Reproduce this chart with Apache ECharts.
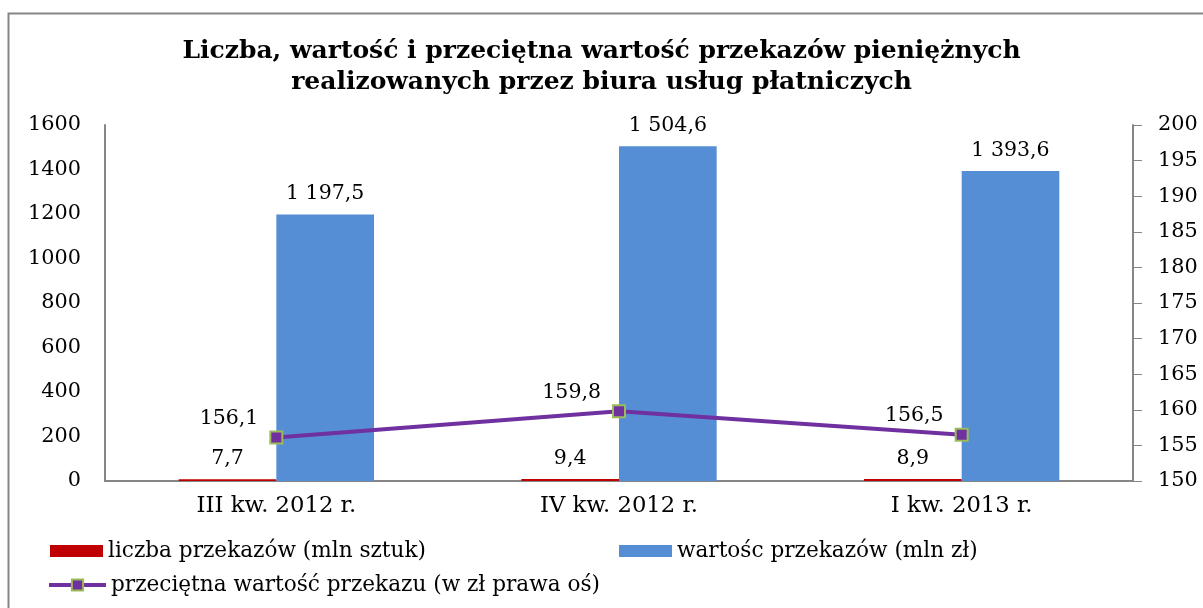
<!DOCTYPE html>
<html><head><meta charset="utf-8">
<script src="https://cdn.jsdelivr.net/npm/echarts@6/dist/echarts.min.js"></script>
<style>html,body{margin:0;padding:0;background:#fff}#c{width:1203px;height:608px}</style>
</head><body><div id="c"></div>
<script>
const categories = ['III kw. 2012 r.', 'IV kw. 2012 r.', 'I kw. 2013 r.'];
const liczba = [7.7, 9.4, 8.9];
const wartosc = [1197.5, 1504.6, 1393.6];
const przecietna = [156.1, 159.8, 156.5];
const names = ['liczba przekazów (mln sztuk)', 'wartośc przekazów (mln zł)', 'przeciętna wartość przekazu (w zł prawa oś)'];

const FONT = '"DejaVu Serif", "Liberation Serif", serif';
function fmt(v) {
  const s = v.toFixed(1).split('.');
  return s[0].replace(/\B(?=(\d{3})+(?!\d))/g, ' ') + ',' + s[1];
}
const chart = echarts.init(document.getElementById('c'));
const lbl = {show: true, fontFamily: FONT, fontSize: 20.5, color: '#000', formatter: p => fmt(p.value)};
const legText = {fontFamily: FONT, fontSize: 21.6, color: '#000'};
chart.setOption({
  animation: false,
  title: {
    text: 'Liczba, wartość i przeciętna wartość przekazów pieniężnych\nrealizowanych przez biura usług płatniczych',
    left: 'center', top: 31,
    textStyle: {fontFamily: FONT, fontSize: 25, fontWeight: 'bold', color: '#000', lineHeight: 31}
  },
  graphic: [{type: 'rect', shape: {x: 8.5, y: 13.5, width: 1210, height: 620}, style: {fill: null, stroke: '#868686', lineWidth: 2}, silent: true}],
  grid: {left: 105, right: 70, top: 125, bottom: 127},
  legend: [
    {data: [{name: names[0], icon: 'rect'}], left: 50, top: 540, padding: 0, itemWidth: 53, itemHeight: 12, itemGap: 5, textStyle: legText},
    {data: [{name: names[1], icon: 'rect'}], left: 619, top: 540, padding: 0, itemWidth: 53, itemHeight: 12, itemGap: 5, textStyle: legText},
    {data: [names[2]], left: 47, top: 574, padding: 0, itemWidth: 57, itemHeight: 14, itemGap: 4, textStyle: legText,
     lineStyle: {width: 4, color: '#7030A0'}}
  ],
  xAxis: {
    type: 'category', data: categories,
    axisLine: {lineStyle: {color: '#868686', width: 2}},
    axisTick: {show: false},
    axisLabel: {fontFamily: FONT, fontSize: 22.7, color: '#000', margin: 14}
  },
  yAxis: [
    {type: 'value', min: 0, max: 1600, interval: 200,
     axisLine: {show: true, lineStyle: {color: '#868686', width: 2}},
     axisTick: {show: false}, splitLine: {show: false},
     axisLabel: {fontFamily: FONT, fontSize: 20.8, color: '#000', margin: 24, formatter: v => String(v)}},
    {type: 'value', min: 150, max: 200, interval: 5, position: 'right',
     axisLine: {show: true, lineStyle: {color: '#868686', width: 2}},
     axisTick: {show: true, length: 9, lineStyle: {color: '#868686'}}, splitLine: {show: false},
     axisLabel: {fontFamily: FONT, fontSize: 20.8, color: '#000', margin: 25}}
  ],
  series: [
    {name: names[0], type: 'bar', data: liczba, yAxisIndex: 0, barGap: '0%', barCategoryGap: '43%',
     itemStyle: {color: '#C00000'}, label: Object.assign({position: 'top', distance: 10}, lbl)},
    {name: names[1], type: 'bar', data: wartosc, yAxisIndex: 0,
     itemStyle: {color: '#558ED5'}, label: Object.assign({position: 'top', distance: 10}, lbl)},
    {name: names[2], type: 'line', data: przecietna, yAxisIndex: 1, z: 5,
     lineStyle: {color: '#7030A0', width: 4}, symbol: 'rect', symbolSize: 12,
     itemStyle: {color: '#7030A0', borderColor: '#9BBB59', borderWidth: 2},
     label: Object.assign({position: 'left', distance: 11, offset: [0, -19]}, lbl)}
  ]
});
</script></body></html>
